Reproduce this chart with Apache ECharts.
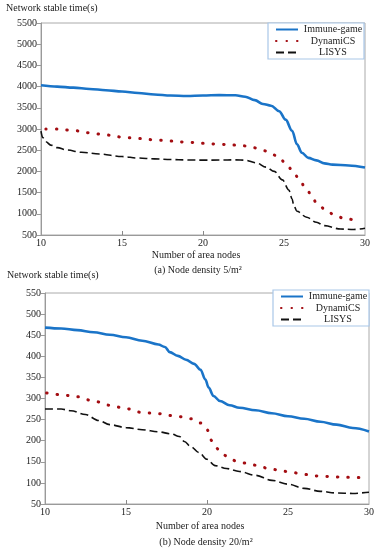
<!DOCTYPE html>
<html>
<head>
<meta charset="utf-8">
<script src="https://cdn.jsdelivr.net/npm/echarts@6/dist/echarts.min.js"></script>
<style>html,body{margin:0;padding:0;background:#fff;}#c{width:377px;height:550px;}</style>
</head>
<body>
<div id="c"></div>
<script>
// ---- Chart (a): Node density 5/m2 ----
const immuneAx = [10, 11, 12, 13, 14, 15, 16, 17, 18, 19, 20, 21, 22, 22.6, 23.2, 23.7, 24.2, 24.7, 25.1, 25.5, 25.8, 26.1, 26.5, 27, 27.5, 28, 29, 30];
const immuneAy = [4030, 4000, 3975, 3945, 3915, 3885, 3850, 3815, 3790, 3780, 3790, 3800, 3795, 3760, 3680, 3590, 3550, 3420, 3220, 2960, 2640, 2440, 2320, 2260, 2190, 2160, 2140, 2090];
const dynAx = [10.3, 11, 12, 13, 14, 15, 16, 17, 18, 19, 20, 21, 22, 22.7, 23.3, 23.9, 24.6, 25.1, 25.5, 25.9, 26.3, 26.7, 27.0, 27.6, 28.1, 28.8, 29.5];
const dynAy = [3000, 3000, 2965, 2910, 2860, 2810, 2775, 2745, 2715, 2690, 2665, 2640, 2620, 2600, 2552, 2482, 2364, 2199, 2034, 1845, 1633, 1444, 1256, 1090, 973, 878, 850];
const lisAx = [10, 10.1, 10.3, 10.6, 11, 11.6, 12.5, 13.6, 15, 16, 17, 18, 19, 20, 21, 22, 22.6, 23.3, 23.9, 24.4, 24.9, 25.3, 25.5, 25.6, 25.8, 26.4, 27, 27.5, 28.5, 29.3, 30];
const lisAy = [2950, 2800, 2700, 2620, 2560, 2505, 2450, 2411, 2350, 2315, 2295, 2280, 2270, 2265, 2268, 2272, 2265, 2200, 2100, 2000, 1800, 1560, 1350, 1200, 1060, 920, 800, 720, 640, 630, 660];

// ---- Chart (b): Node density 20/m2 ----
const immuneBx = [10, 11, 12, 13, 14, 15, 16, 17, 17.4, 17.7, 18.2, 18.7, 19.2, 19.6, 19.9, 20.1, 20.4, 20.8, 21.4, 22, 23, 24, 25, 26, 27, 28, 29, 30];
const immuneBy = [468, 466, 462, 457, 451, 445, 437, 428, 422, 410, 401, 392, 382, 368, 345, 326, 306, 294, 284, 278, 272, 265, 258, 252, 245, 238, 230, 222];
const dynBx = [10.1, 11, 12, 13, 14, 15, 16, 17, 18, 19, 19.6, 20, 20.3, 20.7, 21.2, 21.8, 22.4, 23, 24, 25, 26, 27, 28, 29, 29.6];
const dynBy = [313, 309, 304, 294, 284, 276, 267, 264, 259, 252, 242, 226, 200, 180, 164, 152, 147, 142, 132, 127, 120, 116, 114, 113, 112];
const lisBx = [10, 11, 11.6, 12.5, 13.3, 14, 15, 16, 17, 17.8, 18.3, 18.6, 19, 19.5, 20, 20.5, 21.2, 22, 23, 24, 25, 26, 27, 28, 29, 30];
const lisBy = [275, 275, 271, 262, 248, 238, 231, 226, 221, 216, 210, 198, 186, 172, 156, 141, 134, 127, 118, 106, 97, 87, 80, 76, 75, 78];

const seriesNames = ['Immune-game', 'DynamiCS', 'LISYS'];
const yLabel = 'Network stable time(s)';
const xLabel = 'Number of area nodes';
const captionA = '(a) Node density 5/m\u00B2';
const captionB = '(b) Node density 20/m\u00B2';

const zip = (xs, ys) => xs.map((x, i) => [x, ys[i]]);
const FONT = 'Liberation Serif, Times New Roman, serif';
const txtColor = '#222';
const axisGrey = '#9a9a9a';

const styles = [
  { color: '#1a74c8', width: 2.6, type: 'solid' },
  { color: '#a30d12', width: 3, type: [0.5, 10], cap: 'round' },
  { color: '#111111', width: 1.6, type: [8, 4] }
];

function xAxisCfg(gi) {
  return {
    type: 'value', gridIndex: gi, min: 10, max: 30, interval: 5,
    axisLine: { show: true, lineStyle: { color: axisGrey } },
    axisTick: { show: true, inside: true, length: 4, customValues: [15, 20], lineStyle: { color: '#888' } },
    axisLabel: { color: txtColor, fontFamily: FONT, fontSize: 10, margin: 3, formatter: v => String(v) },
    splitLine: { show: false }
  };
}
function yAxisCfg(gi, min, max, interval) {
  return {
    type: 'value', gridIndex: gi, min: min, max: max, interval: interval,
    axisLine: { show: true, lineStyle: { color: axisGrey } },
    axisTick: { show: true, length: 4, lineStyle: { color: axisGrey } },
    axisLabel: { color: txtColor, fontFamily: FONT, fontSize: 10, margin: 4, formatter: v => String(v) },
    splitLine: { show: false }
  };
}
function mkSeries(name, idx, gi, data) {
  const s = styles[idx];
  return {
    name: name, type: 'line', xAxisIndex: gi, yAxisIndex: gi,
    data: data, smooth: 0.35, smoothMonotone: 'x', symbol: 'none', showSymbol: false,
    lineStyle: { color: s.color, width: s.width, type: s.type, cap: s.cap || 'butt' },
    itemStyle: { color: s.color },
    emphasis: { disabled: true }, silent: true
  };
}
function legendCfg(left, top) {
  return {
    data: seriesNames, orient: 'vertical', left: left, top: top,
    padding: [1, 1, 1, 7], itemGap: 0.5, itemWidth: 22, itemHeight: 10,
    borderColor: '#a9c7e8', borderWidth: 1.2, backgroundColor: '#fff',
    selectedMode: false,
    itemStyle: { color: 'transparent', borderColor: 'transparent', borderWidth: 0, opacity: 0 },
    textStyle: {
      fontFamily: FONT, fontSize: 10, color: txtColor, lineHeight: 11,
      rich: { a: { width: 60, align: 'center', fontFamily: FONT, fontSize: 10, color: txtColor, lineHeight: 11 } }
    },
    formatter: n => '{a|' + n + '}'
  };
}
function txt(x, y, text) {
  return { type: 'text', x: x, y: y, silent: true,
    style: { text: text, font: '10px ' + FONT, fill: txtColor, align: 'center', verticalAlign: 'middle' } };
}
function txtL(x, y, text) {
  return { type: 'text', x: x, y: y, silent: true,
    style: { text: text, font: '10px ' + FONT, fill: txtColor, align: 'left', verticalAlign: 'middle' } };
}

const chart = echarts.init(document.getElementById('c'), null, { renderer: 'canvas' });
chart.setOption({
  animation: false,
  backgroundColor: '#fff',
  grid: [
    { left: 41, top: 23, width: 324, height: 212, show: true, borderColor: '#aaa', borderWidth: 1, backgroundColor: 'transparent' },
    { left: 45, top: 293, width: 324, height: 211, show: true, borderColor: '#aaa', borderWidth: 1, backgroundColor: 'transparent' }
  ],
  xAxis: [xAxisCfg(0), xAxisCfg(1)],
  yAxis: [yAxisCfg(0, 500, 5500, 500), yAxisCfg(1, 50, 550, 50)],
  legend: [legendCfg(268, 23), legendCfg(273, 290)],
  series: [
    mkSeries(seriesNames[0], 0, 0, zip(immuneAx, immuneAy)),
    mkSeries(seriesNames[1], 1, 0, zip(dynAx, dynAy)),
    mkSeries(seriesNames[2], 2, 0, zip(lisAx, lisAy)),
    mkSeries(seriesNames[0], 0, 1, zip(immuneBx, immuneBy)),
    mkSeries(seriesNames[1], 1, 1, zip(dynBx, dynBy)),
    mkSeries(seriesNames[2], 2, 1, zip(lisBx, lisBy))
  ],
  graphic: [
    txtL(6, 8, yLabel),
    txt(196, 255, xLabel),
    txt(198, 270, captionA),
    txtL(7, 275, yLabel),
    txt(200, 526, xLabel),
    txt(206, 542, captionB)
  ]
});
</script>
</body>
</html>
